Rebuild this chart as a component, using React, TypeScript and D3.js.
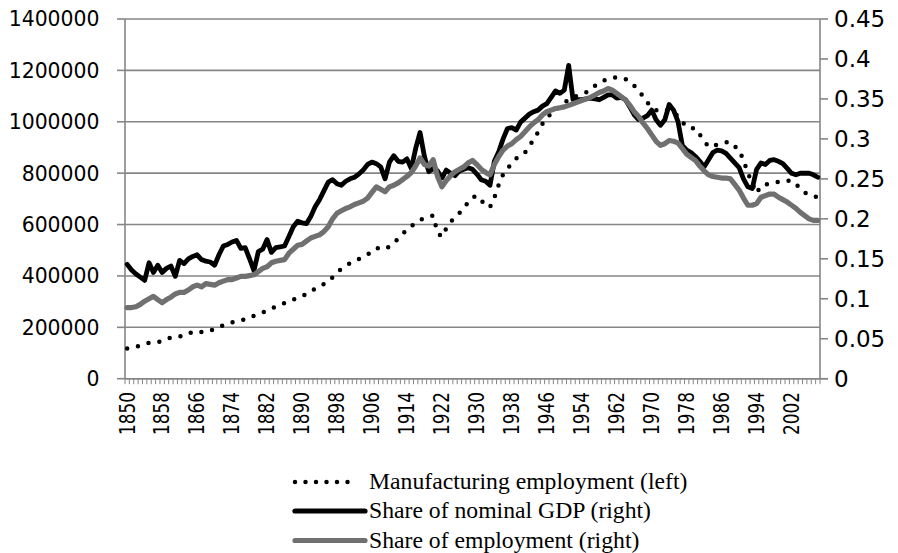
import React from "react";
import * as d3 from "d3";

const years: number[] = d3.range(1850, 2009);
const xTickYears = [1850, 1858, 1866, 1874, 1882, 1890, 1898, 1906, 1914, 1922, 1930, 1938, 1946, 1954, 1962, 1970, 1978, 1986, 1994, 2002];
const leftTicks = [0, 200000, 400000, 600000, 800000, 1000000, 1200000, 1400000];
const rightTicks = [0, 0.05, 0.1, 0.15, 0.2, 0.25, 0.3, 0.35, 0.4, 0.45];

const manufacturingEmployment = [
  118000, 121000, 124000, 130000, 135000, 140000, 142000, 143000, 145000, 153000,
  160000, 163000, 165000, 167000, 175000, 183000, 185000, 182000, 181000, 187000,
  193000, 200000, 208000, 215000, 219000, 223000, 226000, 232000, 239000, 245000,
  251000, 258000, 265000, 273000, 281000, 288000, 294000, 301000, 308000, 314000,
  320000, 330000, 340000, 350000, 360000, 368000, 378000, 395000, 412000, 428000,
  440000, 449000, 457000, 466000, 475000, 483000, 496000, 508000, 506000, 504000,
  515000, 528000, 546000, 563000, 580000, 594000, 606000, 618000, 625000, 630000,
  635000, 568000, 552000, 585000, 610000, 630000, 645000, 660000, 688000, 705000,
  712000, 695000, 672000, 668000, 705000, 755000, 795000, 818000, 838000, 857000,
  870000, 880000, 905000, 932000, 960000, 992000, 1015000, 1032000, 1046000, 1058000,
  1072000, 1088000, 1095000, 1102000, 1108000, 1114000, 1126000, 1140000, 1152000, 1160000,
  1167000, 1172000, 1173000, 1170000, 1166000, 1155000, 1140000, 1120000, 1100000, 1075000,
  1055000, 1045000, 1040000, 1045000, 1045000, 1035000, 1022000, 1000000, 980000, 976000,
  974000, 950000, 925000, 902000, 905000, 912000, 915000, 920000, 922000, 905000,
  890000, 850000, 800000, 760000, 722000, 750000, 756000, 758000, 762000, 766000,
  770000, 771000, 770000, 760000, 735000, 725000, 716000, 712000, 705000,
];

const shareNominalGDP = [
  0.143, 0.136, 0.131, 0.127, 0.123, 0.145, 0.133, 0.142, 0.133, 0.138,
  0.141, 0.128, 0.148, 0.144, 0.150, 0.153, 0.155, 0.149, 0.147, 0.146,
  0.142, 0.155, 0.166, 0.168, 0.171, 0.173, 0.163, 0.164, 0.150, 0.135,
  0.159, 0.162, 0.174, 0.158, 0.164, 0.165, 0.166, 0.178, 0.190, 0.197,
  0.195, 0.194, 0.203, 0.215, 0.224, 0.235, 0.246, 0.249, 0.244, 0.242,
  0.247, 0.250, 0.252, 0.256, 0.261, 0.268, 0.271, 0.269, 0.265, 0.250,
  0.271, 0.279, 0.272, 0.271, 0.275, 0.263, 0.288, 0.308, 0.278, 0.259,
  0.263, 0.260, 0.251, 0.261, 0.257, 0.254, 0.260, 0.262, 0.264, 0.262,
  0.256, 0.249, 0.247, 0.242, 0.272, 0.284, 0.300, 0.313, 0.314, 0.311,
  0.321, 0.326, 0.331, 0.334, 0.336, 0.341, 0.344, 0.352, 0.360, 0.357,
  0.361, 0.392, 0.349, 0.349, 0.349, 0.350, 0.351, 0.350, 0.349, 0.352,
  0.355, 0.355, 0.351, 0.352, 0.349, 0.340, 0.330, 0.324, 0.326, 0.329,
  0.336, 0.324, 0.317, 0.324, 0.343, 0.336, 0.322, 0.292, 0.286, 0.283,
  0.278, 0.272, 0.265, 0.274, 0.283, 0.286, 0.285, 0.282, 0.276, 0.270,
  0.264, 0.250, 0.240, 0.238, 0.262, 0.270, 0.268, 0.273, 0.274, 0.272,
  0.269, 0.263, 0.257, 0.255, 0.257, 0.257, 0.257, 0.255, 0.252,
];

const shareEmployment = [
  0.089, 0.089, 0.090, 0.093, 0.097, 0.100, 0.103, 0.099, 0.095, 0.099,
  0.102, 0.106, 0.108, 0.108, 0.111, 0.115, 0.117, 0.115, 0.119, 0.118,
  0.117, 0.120, 0.122, 0.124, 0.124, 0.126, 0.128, 0.128, 0.129, 0.130,
  0.134, 0.138, 0.140, 0.145, 0.147, 0.148, 0.149, 0.157, 0.162, 0.167,
  0.168, 0.172, 0.176, 0.178, 0.180, 0.184, 0.190, 0.200, 0.207, 0.210,
  0.213, 0.215, 0.218, 0.220, 0.222, 0.226, 0.233, 0.240, 0.237, 0.234,
  0.240, 0.242, 0.245, 0.249, 0.253, 0.258, 0.266, 0.276, 0.268, 0.266,
  0.274, 0.253, 0.240, 0.248, 0.254, 0.259, 0.262, 0.265, 0.270, 0.273,
  0.268, 0.262, 0.258, 0.255, 0.268, 0.278, 0.286, 0.291, 0.294, 0.299,
  0.303, 0.309, 0.315, 0.320, 0.324, 0.330, 0.334, 0.336, 0.338, 0.339,
  0.340, 0.342, 0.344, 0.346, 0.348, 0.350, 0.352, 0.355, 0.358, 0.360,
  0.363, 0.361, 0.357, 0.353, 0.349, 0.342, 0.334, 0.328, 0.320, 0.313,
  0.305, 0.297, 0.292, 0.294, 0.298, 0.297, 0.295, 0.288, 0.281, 0.277,
  0.273, 0.266, 0.260, 0.255, 0.253, 0.252, 0.251, 0.251, 0.250, 0.243,
  0.236, 0.226, 0.217, 0.217, 0.219, 0.227, 0.229, 0.231, 0.231, 0.227,
  0.224, 0.221, 0.217, 0.213, 0.208, 0.204, 0.200, 0.198, 0.198,
];

const legendLabels = [
  "Manufacturing employment (left)",
  "Share of nominal GDP (right)",
  "Share of employment (right)",
];

const W = 898;
const H = 553;
const PL = 125;
const PR = 820;
const PT = 19;
const PB = 378.7;
const AXIS = "#868686";
const GREY_LINE = "#707070";
const TICK_FONT = "'DejaVu Sans', sans-serif";

export default function App() {
  const x = d3.scaleBand<number>().domain(years).range([PL, PR]).paddingInner(0).paddingOuter(0);
  const cx = (yr: number) => (x(yr) as number) + x.bandwidth() / 2;
  const yL = d3.scaleLinear().domain([0, 1400000]).range([PB, PT]);
  const yR = d3.scaleLinear().domain([0, 0.45]).range([PB, PT]);

  const lineL = d3.line<number>().x((_, i) => cx(years[i])).y((d) => yL(d));
  const lineR = d3.line<number>().x((_, i) => cx(years[i])).y((d) => yR(d));

  const step = x.step();
  const xTicks = d3.range(years.length + 1).map((i) => PL + i * step);

  const legendRows = [482, 511, 540.5];

  return (
    <svg
      width={W}
      height={H}
      viewBox={`0 0 ${W} ${H}`}
      style={{ position: "absolute", left: 0, top: 0, background: "#fff" }}
    >
      <rect x={0} y={0} width={W} height={H} fill="#fff" />
      {leftTicks.map((t) => (
        <line key={"g" + t} x1={PL} x2={PR} y1={yL(t)} y2={yL(t)} stroke={AXIS} strokeWidth={1.6} />
      ))}
      <line x1={PL} x2={PL} y1={PT} y2={PB} stroke={AXIS} strokeWidth={1.6} />
      {leftTicks.map((t) => (
        <g key={"l" + t}>
          <line x1={PL - 8} x2={PL} y1={yL(t)} y2={yL(t)} stroke={AXIS} strokeWidth={1.6} />
          <text
            x={99.5}
            y={yL(t)}
            dy="0.36em"
            textAnchor="end"
            fontFamily={TICK_FONT}
            fontSize={20.4}
            fill="#000"
          >
            {String(t)}
          </text>
        </g>
      ))}
      <line x1={PR} x2={PR} y1={PT} y2={PB} stroke={AXIS} strokeWidth={1.6} />
      {rightTicks.map((t) => (
        <g key={"r" + t}>
          <line x1={PR} x2={PR + 8} y1={yR(t)} y2={yR(t)} stroke={AXIS} strokeWidth={1.6} />
          <text
            x={834}
            y={yR(t)}
            dy="0.36em"
            textAnchor="start"
            fontFamily={TICK_FONT}
            fontSize={23}
            fill="#000"
          >
            {d3.format("~g")(t)}
          </text>
        </g>
      ))}
      <line x1={PL} x2={PR + 8} y1={PB} y2={PB} stroke={AXIS} strokeWidth={1.6} />
      {xTicks.map((tx, i) => (
        <line key={"xt" + i} x1={tx} x2={tx} y1={PB} y2={PB + 5.5} stroke={AXIS} strokeWidth={1} />
      ))}
      {xTickYears.map((yr) => (
        <text
          key={"xl" + yr}
          transform={`translate(${cx(yr)},${392}) rotate(-90) scale(0.83,1)`}
          dy="0.36em"
          textAnchor="end"
          fontFamily={TICK_FONT}
          fontSize={20.4}
          fill="#000"
        >
          {String(yr)}
        </text>
      ))}
      <path
        d={lineL(manufacturingEmployment) || ""}
        fill="none"
        stroke="#000"
        strokeWidth={4.5}
        strokeDasharray="0 11"
        strokeLinecap="round"
      />
      <path
        d={lineR(shareNominalGDP) || ""}
        fill="none"
        stroke="#000"
        strokeWidth={4.8}
        strokeLinejoin="round"
        strokeLinecap="round"
      />
      <path
        d={lineR(shareEmployment) || ""}
        fill="none"
        stroke={GREY_LINE}
        strokeWidth={5.2}
        strokeLinejoin="round"
        strokeLinecap="round"
      />
      <line x1={295} x2={358} y1={legendRows[0]} y2={legendRows[0]} stroke="#000" strokeWidth={4.5} strokeDasharray="0 10.5" strokeLinecap="round" />
      <line x1={295} x2={365} y1={legendRows[1]} y2={legendRows[1]} stroke="#000" strokeWidth={5.2} strokeLinecap="round" />
      <line x1={295} x2={365} y1={legendRows[2]} y2={legendRows[2]} stroke={GREY_LINE} strokeWidth={5.2} strokeLinecap="round" />
      {legendLabels.map((lab, i) => (
        <text
          key={lab}
          x={369}
          y={legendRows[i] + 7.4}
          fontFamily="'Liberation Serif', 'Times New Roman', serif"
          fontSize={23.7}
          fill="#000"
        >
          {lab}
        </text>
      ))}
    </svg>
  );
}
